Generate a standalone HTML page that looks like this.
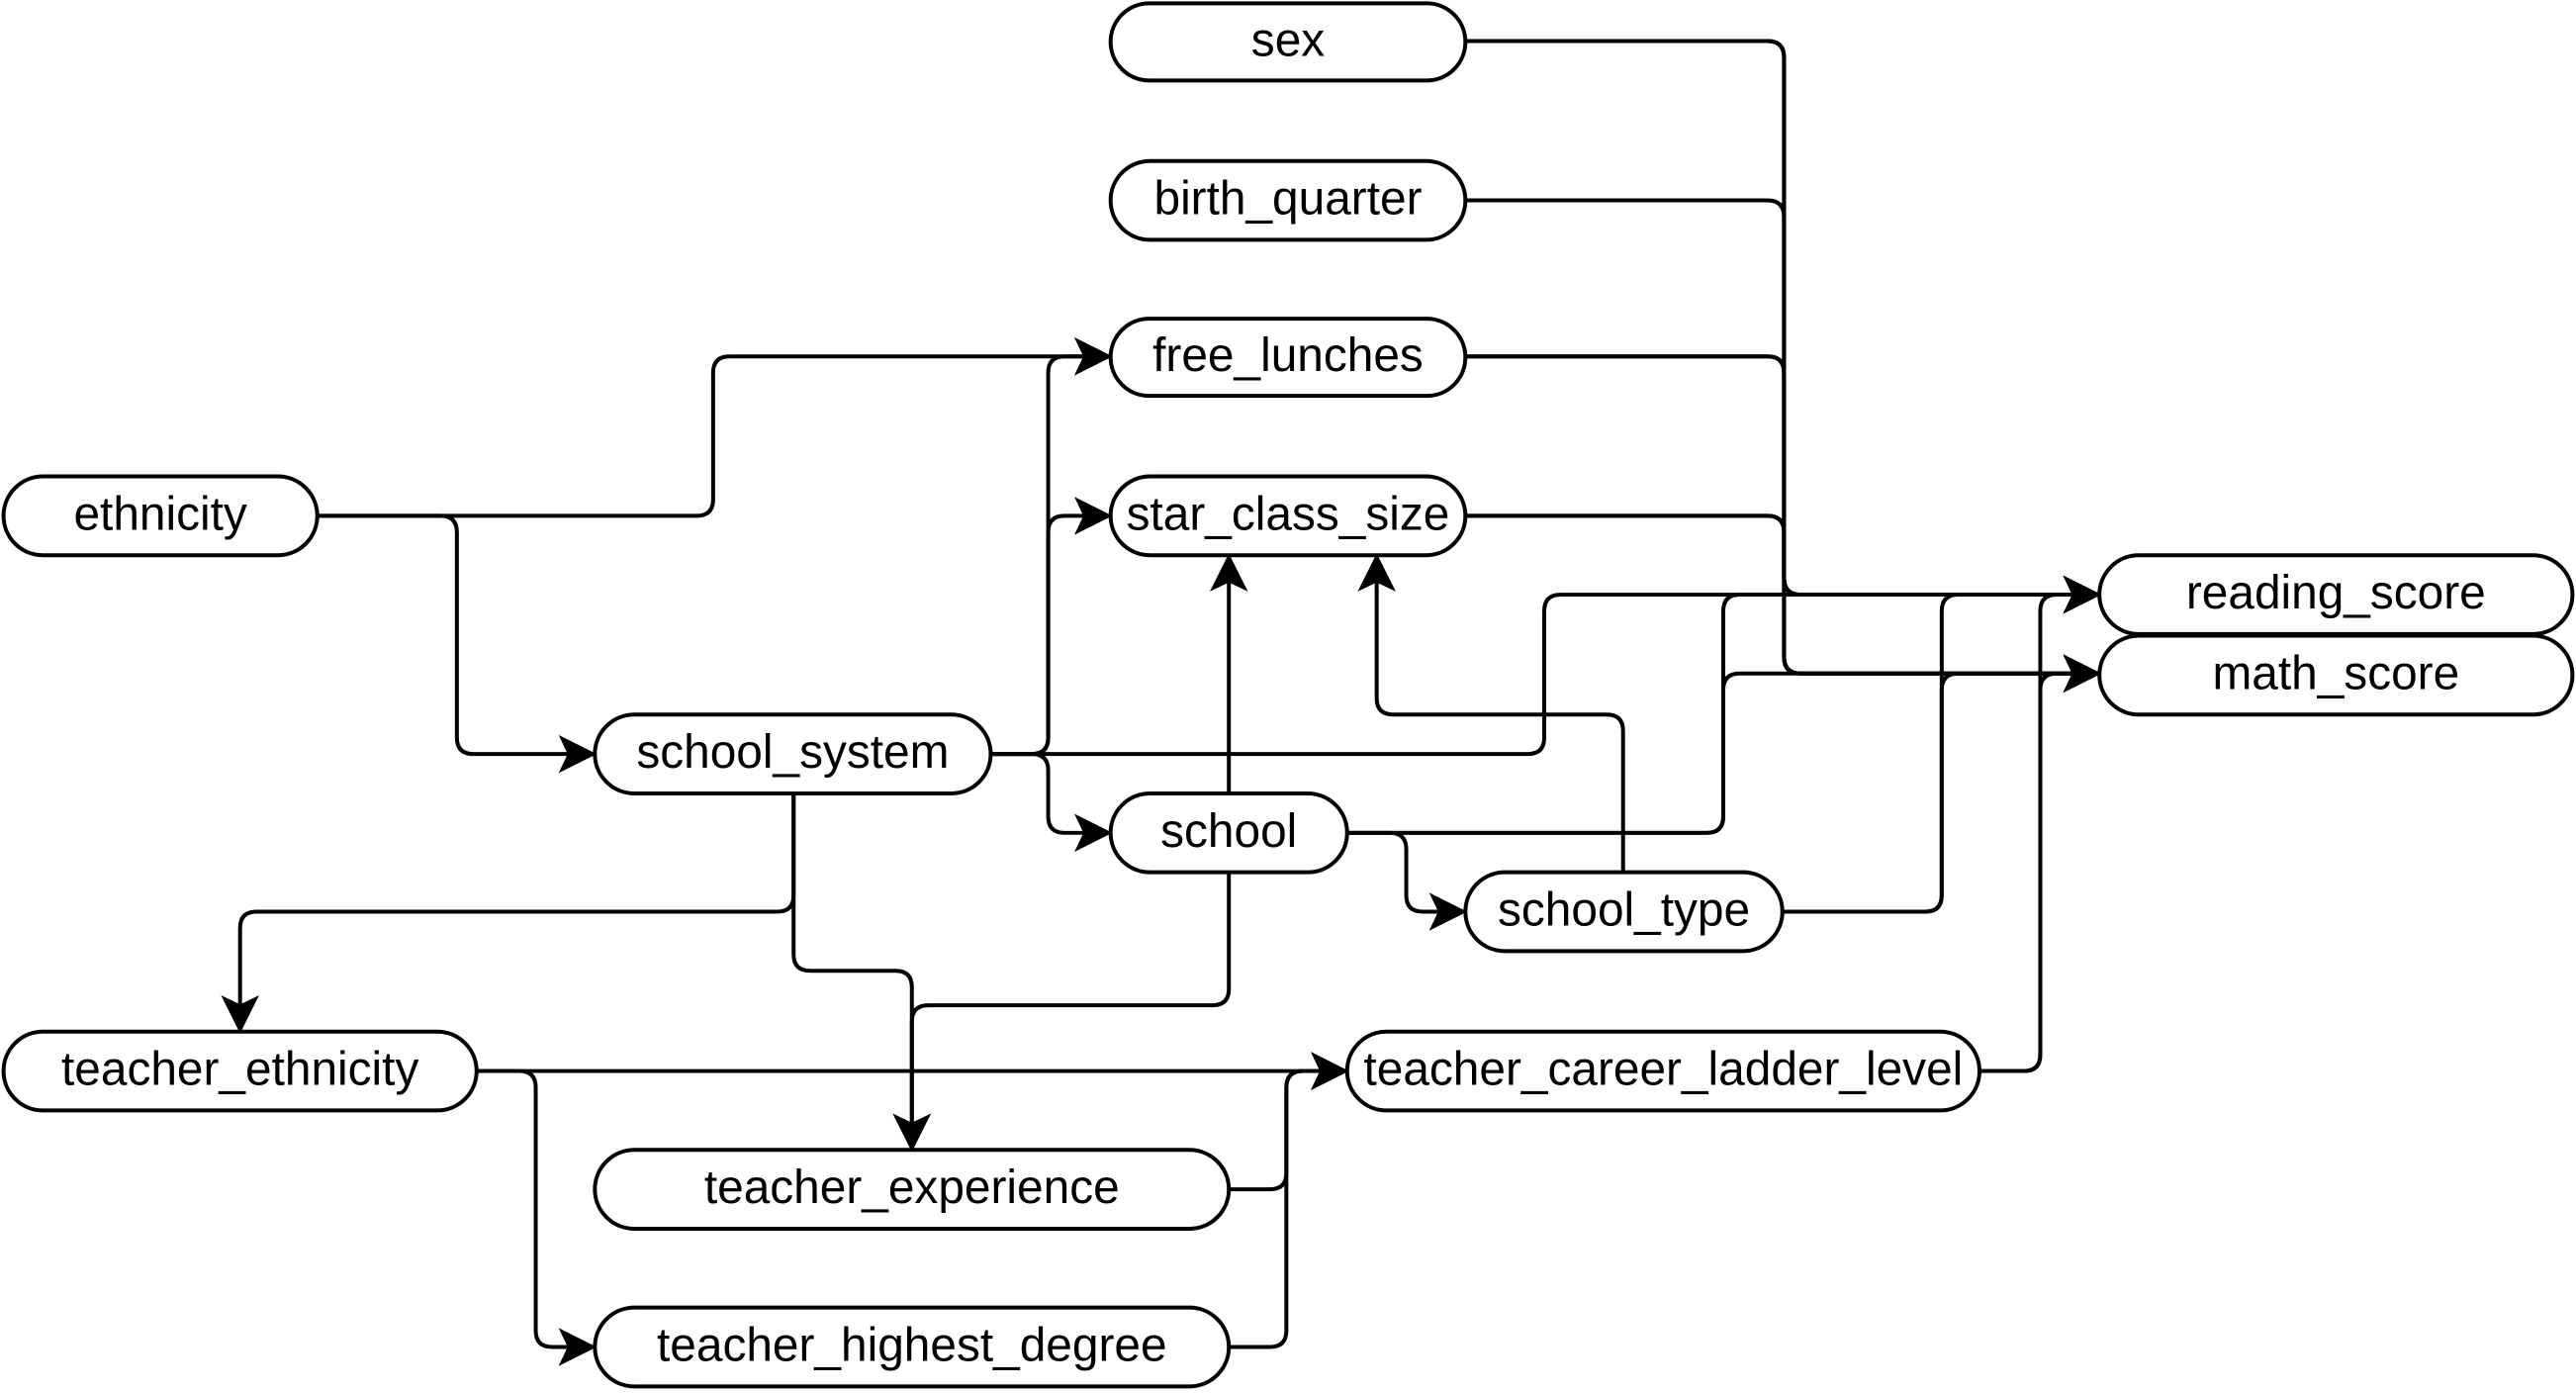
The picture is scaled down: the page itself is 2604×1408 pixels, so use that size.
<!DOCTYPE html>
<html><head><meta charset="utf-8"><style>
html,body{margin:0;padding:0;background:#fff;width:2604px;height:1408px;overflow:hidden}
svg{display:block}
</style></head><body>
<svg id="s" width="2604" height="1408" viewBox="0 0 1568 848" xmlns="http://www.w3.org/2000/svg">
<g id="e" fill="none" stroke="#000" stroke-width="2.4"></g>
<g id="n"></g>
</svg>
<script>
const N=[["sex",676,2,216,47],["birth_quarter",676,98,216,48],["free_lunches",676,194,216,47],["star_class_size",676,290,216,48],
["ethnicity",2,290,191,48],["reading_score",1278,338,288,48],["math_score",1278,387,288,48],["school_system",362,435,241,48],
["school",676,483,144,48],["school_type",892,531,193,48],["teacher_ethnicity",2,628,288,48],["teacher_career_ladder_level",820,628,385,48],
["teacher_experience",362,700,386,48],["teacher_highest_degree",362,796,386,48]];
const ns="http://www.w3.org/2000/svg";
let g=document.getElementById("n"),ge=document.getElementById("e");
for(const [t,x,y,w,h] of N){
 let r=document.createElementNS(ns,"rect");
 r.setAttribute("x",x);r.setAttribute("y",y);r.setAttribute("width",w);r.setAttribute("height",h);
 r.setAttribute("rx",h/2);r.setAttribute("fill","#fff");r.setAttribute("stroke","#000");r.setAttribute("stroke-width","2.4");
 g.appendChild(r);
 let tx=document.createElementNS(ns,"text");tx.setAttribute("x",x+w/2);tx.setAttribute("y",y+h/2+8.5);
 tx.setAttribute("text-anchor","middle");tx.setAttribute("font-family","Liberation Sans, sans-serif");
 tx.setAttribute("font-size","28.8");tx.textContent=t;g.appendChild(tx);
}
function path(p,arrow){
 const R=10;let d="M"+p[0][0]+","+p[0][1];
 let pts=p.slice();
 if(arrow){let a=pts[pts.length-2],b=pts[pts.length-1];let dx=Math.sign(b[0]-a[0]),dy=Math.sign(b[1]-a[1]);pts[pts.length-1]=[b[0]-dx*14,b[1]-dy*14];}
 for(let i=1;i<pts.length-1;i++){
  let a=pts[i-1],b=pts[i],c=pts[i+1];
  let l1=Math.hypot(b[0]-a[0],b[1]-a[1]),l2=Math.hypot(c[0]-b[0],c[1]-b[1]);
  let r=Math.min(R,l1/2,l2/2);
  let p1=[b[0]-(b[0]-a[0])/l1*r,b[1]-(b[1]-a[1])/l1*r],p2=[b[0]+(c[0]-b[0])/l2*r,b[1]+(c[1]-b[1])/l2*r];
  d+=" L"+p1[0]+","+p1[1]+" Q"+b[0]+","+b[1]+" "+p2[0]+","+p2[1];
 }
 let L=pts[pts.length-1];d+=" L"+L[0]+","+L[1];
 let pe=document.createElementNS(ns,"path");pe.setAttribute("d",d);ge.appendChild(pe);
 if(arrow){let a=p[p.length-2],b=p[p.length-1];let dx=Math.sign(b[0]-a[0]),dy=Math.sign(b[1]-a[1]);
  let px=-dy,py=dx;const Lh=21,W=10.5,nt=5;
  let q=[[b[0],b[1]],[b[0]-dx*Lh+px*W,b[1]-dy*Lh+py*W],[b[0]-dx*(Lh-nt),b[1]-dy*(Lh-nt)],[b[0]-dx*Lh-px*W,b[1]-dy*Lh-py*W]];
  let pl=document.createElementNS(ns,"polygon");pl.setAttribute("points",q.map(v=>v.join(",")).join(" "));
  pl.setAttribute("fill","#000");pl.setAttribute("stroke","#000");pl.setAttribute("stroke-width","1");ge.appendChild(pl);}
}
const E=[];
for(const y of [25,122,217,314]){E.push([[892,y],[1086,y],[1086,362],[1278,362]]);E.push([[892,y],[1086,y],[1086,410],[1278,410]]);}
E.push([[193,314],[434,314],[434,217],[676,217]]);
E.push([[193,314],[278,314],[278,459],[362,459]]);
E.push([[603,459],[638,459],[638,217],[676,217]]);
E.push([[603,459],[638,459],[638,314],[676,314]]);
E.push([[603,459],[638,459],[638,507],[676,507]]);
E.push([[603,459],[940,459],[940,362],[1278,362]]);
E.push([[483,483],[483,555],[146,555],[146,628]]);
E.push([[483,483],[483,591],[555,591],[555,700]]);
E.push([[748,483],[748,338]]);
E.push([[748,531],[748,612],[555,612],[555,700]]);
E.push([[820,507],[1049,507],[1049,362],[1278,362]]);
E.push([[820,507],[1049,507],[1049,410],[1278,410]]);
E.push([[820,507],[856,507],[856,555],[892,555]]);
E.push([[988,531],[988,435],[838,435],[838,338]]);
E.push([[1085,555],[1182,555],[1182,362],[1278,362]]);
E.push([[1085,555],[1182,555],[1182,410],[1278,410]]);
E.push([[290,652],[820,652]]);
E.push([[290,652],[326,652],[326,820],[362,820]]);
E.push([[748,724],[783,724],[783,652],[820,652]]);
E.push([[748,820],[783,820],[783,652],[820,652]]);
E.push([[1205,652],[1242,652],[1242,362],[1278,362]]);
E.push([[1205,652],[1242,652],[1242,410],[1278,410]]);
for(const p of E)path(p,true);
</script>
</body></html>
